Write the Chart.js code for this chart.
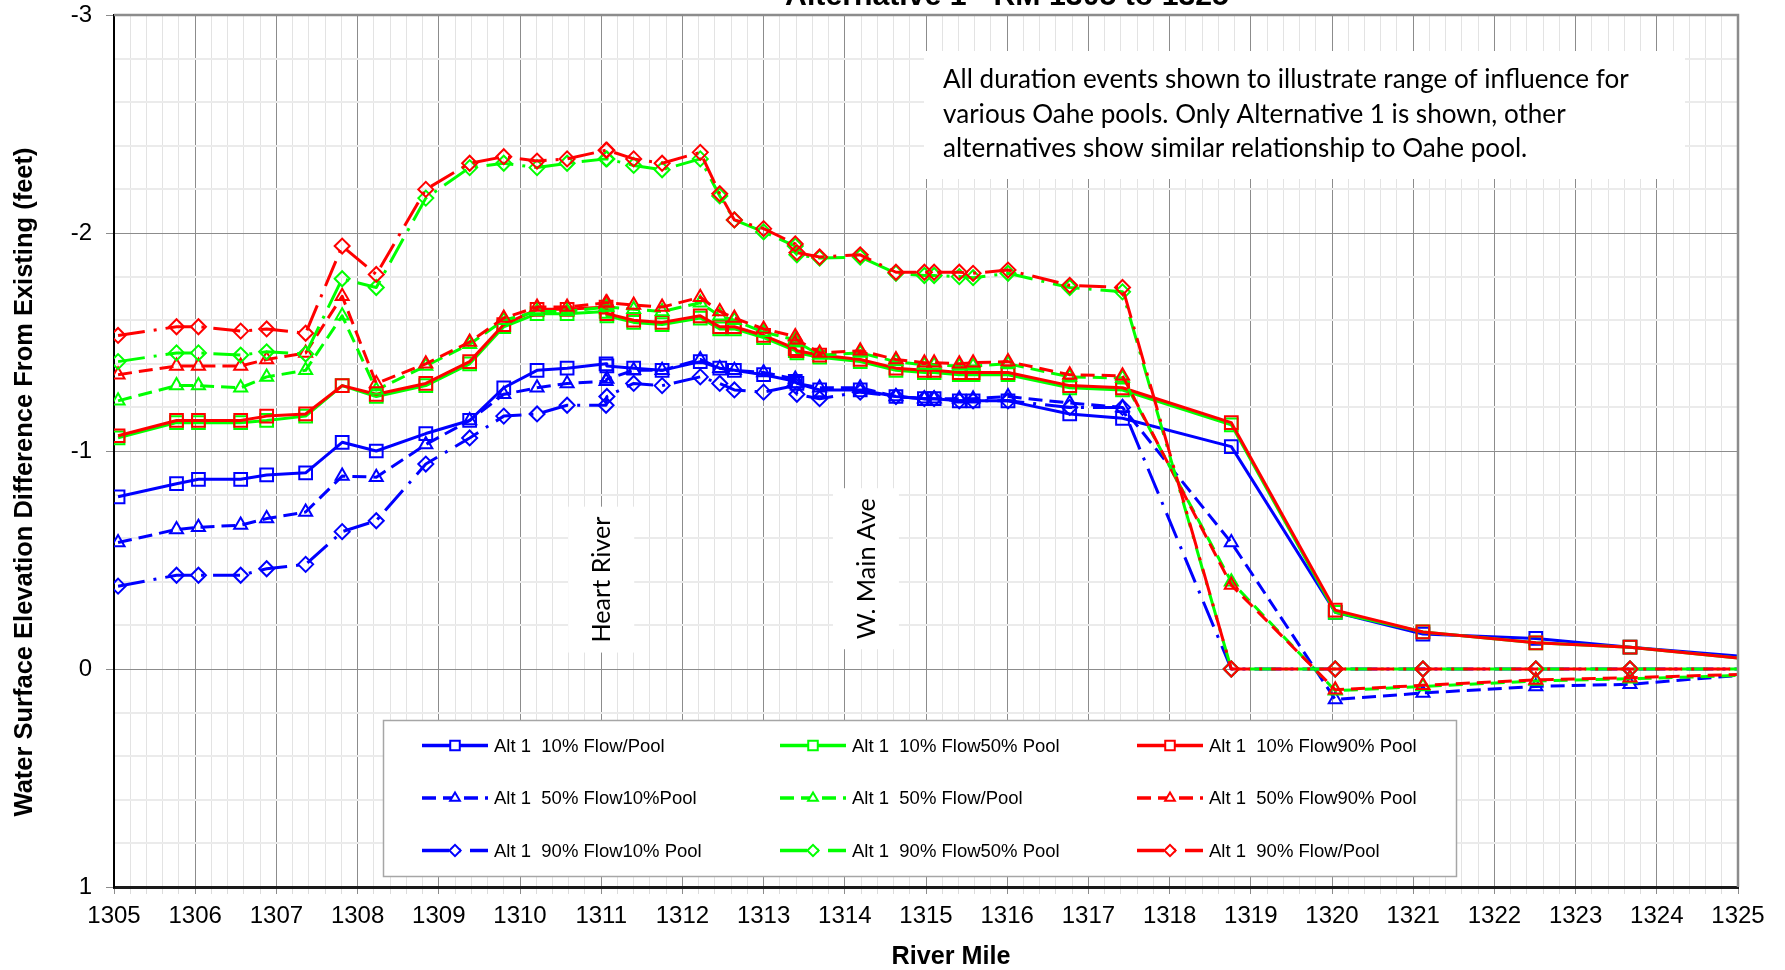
<!DOCTYPE html>
<html>
<head>
<meta charset="utf-8">
<title>Alternative 1 - RM 1305 to 1325</title>
<script src="https://cdn.jsdelivr.net/npm/chart.js@4.4.1/dist/chart.umd.min.js"></script>
<style>
  html, body { margin: 0; padding: 0; background: #ffffff; overflow: hidden; }
  #wrap { position: relative; width: 1785px; height: 970px; }
</style>
</head>
<body>
<div id="wrap"><canvas id="chart" width="1785" height="970"></canvas></div>
<script>
// Cross-section river miles (1325.00 is where the profile leaves the plotted reach)
const riverMile = [1305.05, 1305.77, 1306.04, 1306.56, 1306.88, 1307.36, 1307.81, 1308.23, 1308.84, 1309.38,
                   1309.80, 1310.21, 1310.58, 1311.06, 1311.07, 1311.40, 1311.75, 1312.22, 1312.46, 1312.64,
                   1313.00, 1313.39, 1313.41, 1313.69, 1314.19, 1314.63, 1314.98, 1315.10, 1315.41, 1315.58,
                   1316.01, 1316.77, 1317.42, 1318.76, 1320.04, 1321.12, 1322.51, 1323.67, 1325.00];

// Water surface elevation difference from existing (feet), Alternative 1
const flow10Pool10 = [-0.79, -0.85, -0.87, -0.87, -0.89, -0.90, -1.04, -1.00, -1.08, -1.14,
                      -1.29, -1.37, -1.38, -1.40, -1.39, -1.38, -1.37, -1.41, -1.38, -1.37,
                      -1.35, -1.32, -1.31, -1.28, -1.28, -1.25, -1.24, -1.24, -1.23, -1.23,
                      -1.23, -1.17, -1.15, -1.02, -0.26, -0.16, -0.14, -0.10, -0.06];
const flow10Pool50 = [-1.06, -1.13, -1.13, -1.13, -1.14, -1.16, -1.30, -1.25, -1.30, -1.40,
                      -1.57, -1.63, -1.63, -1.64, -1.62, -1.59, -1.58, -1.61, -1.56, -1.56,
                      -1.52, -1.46, -1.45, -1.43, -1.41, -1.37, -1.36, -1.36, -1.35, -1.35,
                      -1.35, -1.29, -1.28, -1.12, -0.26, -0.17, -0.12, -0.10, -0.05];
const flow10Pool90 = [-1.07, -1.14, -1.14, -1.14, -1.16, -1.17, -1.30, -1.26, -1.31, -1.41,
                      -1.58, -1.65, -1.65, -1.66, -1.63, -1.60, -1.59, -1.62, -1.57, -1.57,
                      -1.53, -1.47, -1.46, -1.44, -1.42, -1.38, -1.37, -1.37, -1.36, -1.36,
                      -1.36, -1.30, -1.29, -1.13, -0.27, -0.17, -0.12, -0.10, -0.05];
const flow50Pool10 = [-0.58, -0.64, -0.65, -0.66, -0.69, -0.72, -0.885, -0.88, -1.03, -1.14,
                      -1.26, -1.29, -1.31, -1.32, -1.33, -1.37, -1.37, -1.42, -1.38, -1.37,
                      -1.36, -1.33, -1.31, -1.29, -1.29, -1.25, -1.24, -1.24, -1.24, -1.24,
                      -1.25, -1.22, -1.20, -0.58, 0.14, 0.11, 0.08, 0.07, 0.03];
const flow50Pool50 = [-1.23, -1.30, -1.30, -1.29, -1.34, -1.37, -1.62, -1.28, -1.39, -1.49,
                      -1.60, -1.64, -1.64, -1.66, -1.66, -1.65, -1.64, -1.68, -1.62, -1.60,
                      -1.545, -1.51, -1.50, -1.44, -1.45, -1.41, -1.395, -1.395, -1.39, -1.39,
                      -1.40, -1.34, -1.335, -0.40, 0.10, 0.08, 0.055, 0.045, 0.03];
const flow50Pool90 = [-1.35, -1.39, -1.39, -1.39, -1.42, -1.45, -1.71, -1.31, -1.40, -1.50,
                      -1.61, -1.66, -1.66, -1.68, -1.68, -1.67, -1.66, -1.705, -1.64, -1.61,
                      -1.56, -1.525, -1.51, -1.45, -1.46, -1.42, -1.405, -1.405, -1.40, -1.405,
                      -1.41, -1.35, -1.345, -0.385, 0.095, 0.075, 0.05, 0.04, 0.025];
const flow90Pool10 = [-0.38, -0.43, -0.43, -0.43, -0.46, -0.48, -0.63, -0.68, -0.94, -1.06,
                      -1.16, -1.17, -1.21, -1.21, -1.25, -1.31, -1.30, -1.34, -1.31, -1.28,
                      -1.27, -1.30, -1.26, -1.24, -1.27, -1.25, -1.24, -1.24, -1.23, -1.23,
                      -1.23, -1.20, -1.20, 0, 0, 0, 0, 0, 0];
const flow90Pool50 = [-1.41, -1.45, -1.45, -1.44, -1.455, -1.445, -1.79, -1.75, -2.16, -2.30,
                      -2.32, -2.30, -2.32, -2.34, -2.34, -2.31, -2.29, -2.34, -2.17, -2.06,
                      -2.005, -1.94, -1.90, -1.885, -1.89, -1.815, -1.805, -1.805, -1.80, -1.795,
                      -1.815, -1.75, -1.73, 0, 0, 0, 0, 0, 0];
const flow90Pool90 = [-1.53, -1.57, -1.57, -1.55, -1.56, -1.54, -1.94, -1.81, -2.20, -2.32,
                      -2.35, -2.33, -2.34, -2.38, -2.38, -2.34, -2.32, -2.37, -2.18, -2.06,
                      -2.02, -1.95, -1.91, -1.89, -1.90, -1.82, -1.82, -1.82, -1.82, -1.815,
                      -1.83, -1.76, -1.75, 0, 0, 0, 0, 0, 0];

const seriesLabels = ['Alt 1  10% Flow/Pool', 'Alt 1  10% Flow50% Pool', 'Alt 1  10% Flow90% Pool',
                      'Alt 1  50% Flow10%Pool', 'Alt 1  50% Flow/Pool', 'Alt 1  50% Flow90% Pool',
                      'Alt 1  90% Flow10% Pool', 'Alt 1  90% Flow50% Pool', 'Alt 1  90% Flow/Pool'];
const seriesValues = [flow10Pool10, flow10Pool50, flow10Pool90,
                      flow50Pool10, flow50Pool50, flow50Pool90,
                      flow90Pool10, flow90Pool50, flow90Pool90];

const xRange = [1305, 1325];
const yRange = [-3, 1];
const chartTitle = 'Alternative 1 - RM 1305 to 1325';
const xAxisTitle = 'River Mile';
const yAxisTitle = 'Water Surface Elevation Difference From Existing (feet)';
const noteLines = ['All duration events shown to illustrate range of influence for',
                   'various Oahe pools. Only Alternative 1 is shown, other',
                   'alternatives show similar relationship to Oahe pool.'];
const siteLabels = [{ text: 'Heart River', mile: 1311.0, value: -0.41 },
                    { text: 'W. Main Ave', mile: 1314.26, value: -0.46 }];

// Styles: colour by pool, line pattern and marker by flow duration
const poolColors = ['#0000ff', '#00ff00', '#ff0000'];
const flowStyles = [
  { dash: [], marker: 'rect', radius: 9 },
  { dash: [14, 7], marker: 'triangle', radius: 7.5 },
  { dash: [27, 9, 3, 9], marker: 'rectRot', radius: 7.5 }
];

const FONT = "'Liberation Sans', Arial, sans-serif";
const isMajor = v => Math.abs(v - Math.round(v)) < 1e-6;

const datasets = seriesValues.map((vals, i) => {
  const color = poolColors[i % 3];
  const st = flowStyles[Math.floor(i / 3)];
  const last = vals.length - 1;
  return {
    label: seriesLabels[i],
    data: riverMile.map((m, k) => ({ x: m, y: vals[k] })),
    borderColor: color,
    backgroundColor: 'rgba(0,0,0,0)',
    borderWidth: 3,
    borderDash: st.dash,
    borderCapStyle: 'butt',
    borderJoinStyle: 'round',
    pointStyle: st.marker,
    pointRadius: ctx => (ctx.dataIndex === last ? 0 : st.radius),
    pointHoverRadius: st.radius,
    pointBorderWidth: 2,
    pointBorderColor: color,
    pointBackgroundColor: 'rgba(0,0,0,0)',
    tension: 0,
    fill: false,
    order: 8 - i
  };
});

function fitFont(ctx, text, weight, family, targetWidth) {
  ctx.font = weight + ' 100px ' + family;
  const w = ctx.measureText(text).width;
  return 100 * targetWidth / w;
}

const decorations = {
  id: 'decorations',
  beforeDatasetsDraw(chart) {
    const { ctx, scales } = chart;
    const xs = scales.x, ys = scales.y;
    ctx.save();
    // note box
    ctx.fillStyle = '#ffffff';
    ctx.fillRect(924, 51, 761, 128);
    const noteFamily = "Lato, 'Open Sans', sans-serif";
    const noteSize = fitFont(ctx, noteLines[0], 'normal', noteFamily, 686);
    ctx.font = 'normal ' + noteSize.toFixed(2) + 'px ' + noteFamily;
    ctx.fillStyle = '#000000';
    ctx.textAlign = 'left';
    ctx.textBaseline = 'middle';
    noteLines.forEach((t, k) => ctx.fillText(t, 943, 80 + k * 34.2));

    // vertical site labels
    const siteSize = fitFont(ctx, siteLabels[0].text, 'normal', noteFamily, 126);
    siteLabels.forEach(s => {
      const cx = xs.getPixelForValue(s.mile);
      const cy = ys.getPixelForValue(s.value);
      ctx.font = 'normal ' + siteSize.toFixed(2) + 'px ' + noteFamily;
      const w = ctx.measureText(s.text).width;
      ctx.fillStyle = '#ffffff';
      ctx.fillRect(cx - 33, cy - w / 2 - 10, 66, w + 20);
      ctx.save();
      ctx.translate(cx, cy);
      ctx.rotate(-Math.PI / 2);
      ctx.fillStyle = '#000000';
      ctx.textAlign = 'center';
      ctx.textBaseline = 'middle';
      ctx.fillText(s.text, 0, 1);
      ctx.restore();
    });
    ctx.restore();
  },
  afterDatasetsDraw(chart) {
    const { ctx } = chart;
    ctx.save();
    // legend box
    const box = { x: 383, y: 720, w: 1073, h: 156 };
    ctx.fillStyle = '#ffffff';
    ctx.fillRect(box.x, box.y, box.w, box.h);
    ctx.strokeStyle = '#a6a6a6';
    ctx.lineWidth = 1.5;
    ctx.strokeRect(box.x + 0.5, box.y + 0.5, box.w, box.h);
    const colX = [422, 780, 1137];
    const rowY = [745.5, 798, 850.5];
    const sampleLen = 66;
    ctx.font = '18.5px ' + FONT;
    ctx.textBaseline = 'middle';
    ctx.textAlign = 'left';
    chart.data.datasets.forEach((ds, i) => {
      const x0 = colX[i % 3], y = rowY[Math.floor(i / 3)];
      const st = flowStyles[Math.floor(i / 3)];
      ctx.strokeStyle = ds.borderColor;
      ctx.lineWidth = 3.5;
      ctx.lineCap = 'butt';
      ctx.setLineDash(st.dash);
      ctx.beginPath();
      ctx.moveTo(x0, y);
      ctx.lineTo(x0 + sampleLen, y);
      ctx.stroke();
      ctx.setLineDash([]);
      ctx.lineWidth = 2;
      ctx.fillStyle = '#ffffff';
      Chart.helpers.drawPoint(ctx, { pointStyle: st.marker, rotation: 0, radius: st.radius * 0.75, borderWidth: 2 },
        x0 + sampleLen / 2, y);
      ctx.fillStyle = '#000000';
      ctx.fillText(ds.label, x0 + sampleLen + 6, y + 1);
    });
    ctx.restore();
  },
  afterDraw(chart) {
    const { ctx, chartArea: a } = chart;
    ctx.save();
    // plot frame: top and right edges
    ctx.strokeStyle = '#8c8c8c';
    ctx.lineWidth = 2.5;
    ctx.beginPath();
    ctx.moveTo(a.left, a.top);
    ctx.lineTo(a.right, a.top);
    ctx.lineTo(a.right, a.bottom);
    ctx.stroke();

    ctx.fillStyle = '#000000';
    ctx.textAlign = 'center';
    // chart title (runs off the top edge of the page)
    const tSize = fitFont(ctx, chartTitle, 'bold', FONT, 444);
    ctx.font = 'bold ' + tSize.toFixed(2) + 'px ' + FONT;
    ctx.textBaseline = 'alphabetic';
    ctx.fillText(chartTitle, 1007, 4.5);

    // axis titles
    const xtSize = fitFont(ctx, xAxisTitle, 'bold', FONT, 119);
    ctx.font = 'bold ' + xtSize.toFixed(2) + 'px ' + FONT;
    ctx.textBaseline = 'middle';
    ctx.fillText(xAxisTitle, 951, 957);

    const ytSize = fitFont(ctx, yAxisTitle, 'bold', FONT, 669);
    ctx.font = 'bold ' + ytSize.toFixed(2) + 'px ' + FONT;
    ctx.translate(25, 482);
    ctx.rotate(-Math.PI / 2);
    ctx.fillText(yAxisTitle, 0, 0);
    ctx.restore();
  }
};

new Chart(document.getElementById('chart'), {
  type: 'line',
  data: { datasets },
  options: {
    responsive: false,
    animation: false,
    devicePixelRatio: 1,
    layout: { padding: { left: 0, right: 47, top: 15, bottom: 0 } },
    plugins: { legend: { display: false }, title: { display: false }, tooltip: { enabled: false } },
    scales: {
      x: {
        type: 'linear',
        min: xRange[0],
        max: xRange[1],
        afterFit: s => { s.height = 83; s.paddingLeft = 0; s.paddingRight = 0; },
        ticks: {
          stepSize: 0.2,
          autoSkip: false,
          maxRotation: 0,
          padding: 8,
          color: '#000000',
          font: { family: FONT, size: 24 },
          callback: v => (isMajor(v) ? String(Math.round(v)) : '')
        },
        grid: {
          color: c => (isMajor(c.tick.value) ? '#8c8c8c' : '#e3e3e3'),
          lineWidth: 1,
          tickLength: 7,
          tickColor: c => (isMajor(c.tick.value) ? '#8c8c8c' : '#dcdcdc')
        },
        border: { display: true, color: '#1a1a1a', width: 3 }
      },
      y: {
        type: 'linear',
        min: yRange[0],
        max: yRange[1],
        reverse: true,
        afterFit: s => { s.width = 114; s.paddingTop = 0; s.paddingBottom = 0; },
        ticks: {
          stepSize: 0.2,
          autoSkip: false,
          padding: 14,
          color: '#000000',
          font: { family: FONT, size: 24 },
          callback: v => (isMajor(v) ? String(Math.round(v)) : '')
        },
        grid: {
          color: c => (isMajor(c.tick.value) ? '#8c8c8c' : '#ebebeb'),
          lineWidth: c => (isMajor(c.tick.value) ? 1 : 2),
          tickLength: 8,
          tickColor: c => (isMajor(c.tick.value) ? '#8c8c8c' : 'rgba(0,0,0,0)')
        },
        border: { display: true, color: '#000000', width: 2 }
      }
    }
  },
  plugins: [decorations]
});
</script>
</body>
</html>
